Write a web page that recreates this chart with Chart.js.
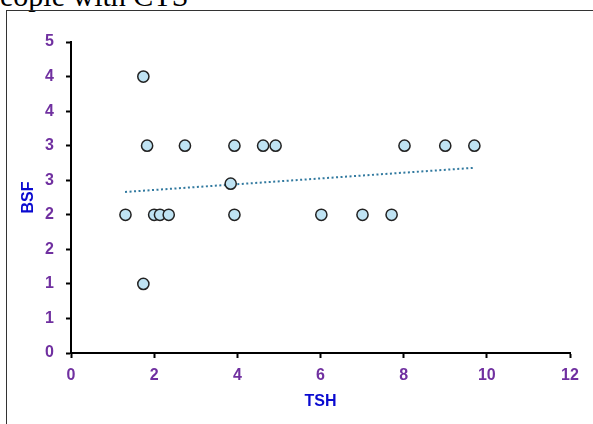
<!DOCTYPE html>
<html>
<head>
<meta charset="utf-8">
<script src="https://cdn.jsdelivr.net/npm/chart.js@4/dist/chart.umd.min.js"></script>
<style>
  html, body { margin: 0; padding: 0; background: #fff; overflow: hidden; }
  #wrap { position: relative; width: 593px; height: 424px; overflow: hidden; }
  #heading {
    position: absolute; left: -15px; top: -19px; line-height: 30px;
    font-family: "Liberation Serif", "Times New Roman", serif; font-size: 30px;
    color: #000; white-space: nowrap;
  }
  #frame {
    position: absolute; left: 6px; top: 10px; width: 700px; height: 500px;
    border-left: 1px solid #333; border-top: 1px solid #333;
  }
  #chartBox { position: absolute; left: 0; top: 0; width: 593px; height: 424px; }
</style>
</head>
<body>
<div id="wrap">
  <div id="heading">people with CTS</div>
  <div id="frame"></div>
  <div id="chartBox"><canvas id="scatterChart" width="593" height="424"></canvas></div>
</div>
<script>
// TSH vs BSF readings
const tshValues = [1.31, 1.74, 1.83, 1.74, 2.0, 2.14, 2.35, 2.74, 3.84, 3.93, 3.93, 4.62, 4.92, 6.02, 7.01, 7.71, 8.02, 9.0, 9.7];
const bsfValues = [2, 4, 3, 1, 2, 2, 2, 3, 2.45, 3, 2, 3, 3, 2, 2, 2, 3, 3, 3];

// linear trend line end points
const trendX = [1.3, 9.7];
const trendY = [2.33, 2.68];

// Excel-style rounded labels for the 0.5 steps
const yTickLabels = ['0', '1', '1', '2', '2', '3', '3', '4', '4', '5'];
const xTickLabels = ['0', '2', '4', '6', '8', '10', '12'];

document.addEventListener('DOMContentLoaded', function() {
    const tickFont = { family: '"Liberation Sans", Arial, sans-serif', size: 16, weight: 'bold' };
    const titleFont = { family: '"Liberation Sans", Arial, sans-serif', size: 16, weight: 'bold' };

    const ctx = document.getElementById('scatterChart').getContext('2d');
    new Chart(ctx, {
        type: 'scatter',
        data: {
            datasets: [
                {
                    label: 'BSF',
                    data: tshValues.map((x, i) => ({ x: x, y: bsfValues[i] })),
                    backgroundColor: '#bfe3f3',
                    borderColor: '#222',
                    borderWidth: 1.5,
                    pointRadius: 5.6
                },
                {
                    label: 'Linear (BSF)',
                    type: 'line',
                    data: trendX.map((x, i) => ({ x: x, y: trendY[i] })),
                    borderColor: '#31799f',
                    borderWidth: 2,
                    borderDash: [2, 2.5],
                    pointRadius: 0,
                    fill: false
                }
            ]
        },
        options: {
            responsive: false,
            animation: false,
            layout: { padding: { left: 0, right: 23, top: 42, bottom: 0 } },
            plugins: {
                legend: { display: false },
                tooltip: { enabled: false }
            },
            scales: {
                x: {
                    type: 'linear',
                    min: 0,
                    max: 12,
                    afterFit: function(scale) { scale.height = 71; },
                    ticks: {
                        stepSize: 2,
                        color: '#7030a0',
                        font: tickFont,
                        padding: 8,
                        callback: function(value, index) { return xTickLabels[index]; }
                    },
                    grid: { drawOnChartArea: false, drawTicks: true, tickLength: 5, tickColor: '#000', tickWidth: 2 },
                    border: { color: '#000', width: 2 },
                    title: { display: true, text: 'TSH', color: '#0a0ad0', font: titleFont, padding: { top: 4, bottom: 13 } }
                },
                y: {
                    type: 'linear',
                    min: 0,
                    max: 4.5,
                    afterFit: function(scale) { scale.width = 71; },
                    ticks: {
                        stepSize: 0.5,
                        color: '#7030a0',
                        font: tickFont,
                        padding: 12,
                        callback: function(value, index) { return yTickLabels[index]; }
                    },
                    grid: { drawOnChartArea: false, drawTicks: true, tickLength: 5, tickColor: '#000', tickWidth: 2 },
                    border: { color: '#000', width: 2 },
                    title: { display: true, text: 'BSF', color: '#0a0ad0', font: titleFont, padding: { top: 19, bottom: 0 } }
                }
            }
        }
    });
});
</script>
</body>
</html>
